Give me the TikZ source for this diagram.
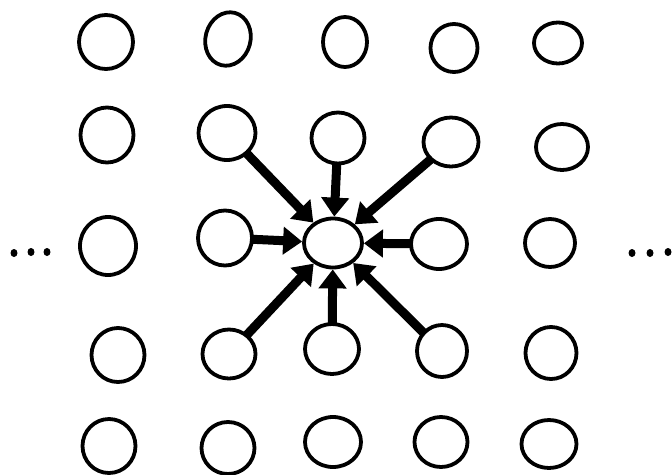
\documentclass[tikz,border=0pt]{standalone}
\usetikzlibrary{shapes.geometric,arrows.meta}
\begin{document}
\begin{tikzpicture}[x=1pt,y=-1pt,
  cell/.style={ellipse,draw=black,line width=3.8pt,inner sep=0pt,fill=none},
  arr/.style={line width=9pt,-{Triangle[length=19pt,width=27pt]},shorten <=-2pt},
  dot/.style={ellipse,fill=black,inner sep=0pt,minimum width=7pt,minimum height=8pt}]
\useasboundingbox (0,0) rectangle (672,474);
% row 1
\node[cell,minimum width=54pt,minimum height=54pt] (a1) at (106,42) {};
\node[cell,minimum width=45pt,minimum height=54pt,rotate=-15] (a2) at (228,39) {};
\node[cell,minimum width=44pt,minimum height=50pt] (a3) at (345,42) {};
\node[cell,minimum width=47pt,minimum height=48pt] (a4) at (454,48) {};
\node[cell,minimum width=48pt,minimum height=41pt] (a5) at (558,43) {};
% row 2
\node[cell,minimum width=53pt,minimum height=55pt] (b1) at (107,135) {};
\node[cell,minimum width=57pt,minimum height=54pt] (b2) at (227,133) {};
\node[cell,minimum width=53pt,minimum height=51pt] (b3) at (338,138) {};
\node[cell,minimum width=55pt,minimum height=49pt] (b4) at (451,142) {};
\node[cell,minimum width=52pt,minimum height=46pt] (b5) at (562,147) {};
% row 3
\node[cell,minimum width=56pt,minimum height=58pt] (c1) at (108,246) {};
\node[cell,minimum width=54pt,minimum height=55pt] (c2) at (225,238) {};
\node[cell,minimum width=58pt,minimum height=49pt] (c) at (333,243) {};
\node[cell,minimum width=56pt,minimum height=50pt] (c4) at (439,244) {};
\node[cell,minimum width=50pt,minimum height=48pt] (c5) at (550,243) {};
% row 4
\node[cell,minimum width=53pt,minimum height=54pt] (d1) at (118,355) {};
\node[cell,minimum width=53pt,minimum height=49pt] (d2) at (229,354) {};
\node[cell,minimum width=54pt,minimum height=50pt] (d3) at (332,349) {};
\node[cell,minimum width=50pt,minimum height=52pt] (d4) at (442,351) {};
\node[cell,minimum width=51pt,minimum height=52pt] (d5) at (551,353) {};
% row 5
\node[cell,minimum width=53pt,minimum height=54pt] (e1) at (109,446) {};
\node[cell,minimum width=53pt,minimum height=52pt] (e2) at (228,448) {};
\node[cell,minimum width=56pt,minimum height=50pt] (e3) at (333,442) {};
\node[cell,minimum width=53pt,minimum height=50pt] (e4) at (441,442) {};
\node[cell,minimum width=55pt,minimum height=48pt] (e5) at (549,444) {};
% arrows into the centre
\foreach \s in {b2,b3,b4,c2,c4,d2,d3,d4}
  \draw[arr] (\s) -- (c);
% ellipsis dots
\node[dot] (l1) at (14,253) {};
\node[dot] (l2) at (31,252) {};
\node[dot] (l3) at (47,252) {};
\node[dot] (r1) at (632,253) {};
\node[dot] (r2) at (650,253) {};
\node[dot] (r3) at (668,252) {};
\end{tikzpicture}
\end{document}
